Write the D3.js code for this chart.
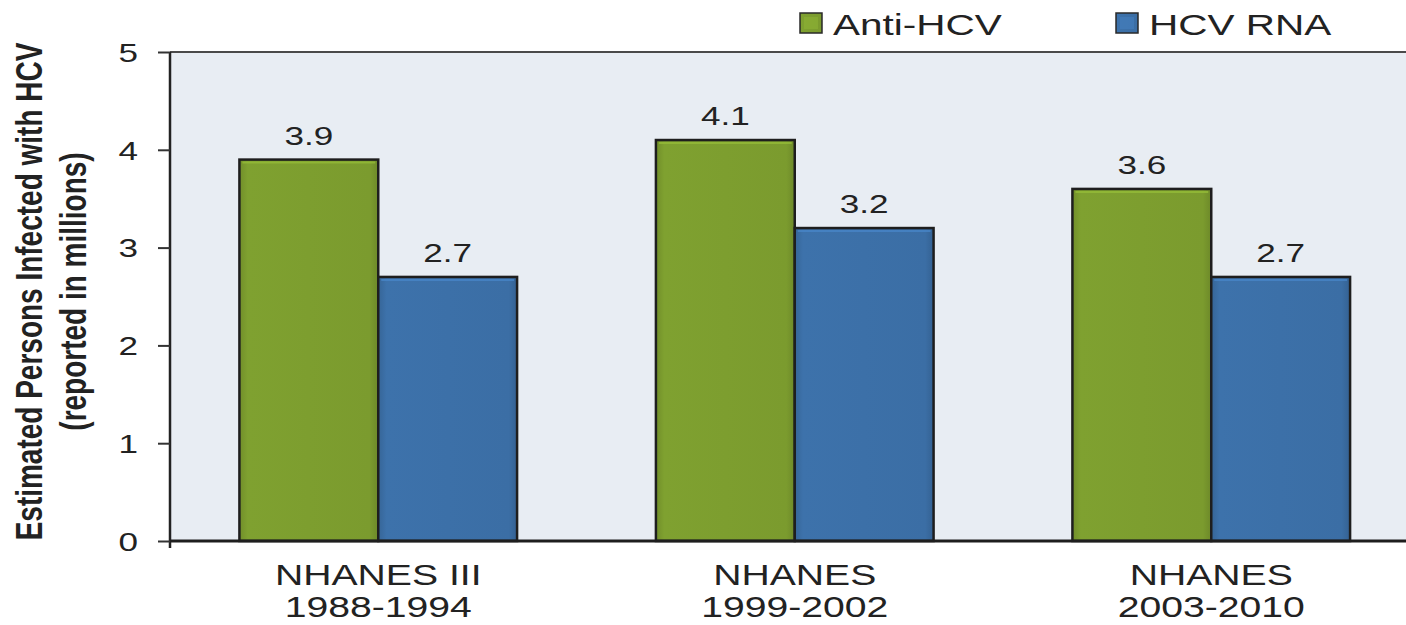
<!DOCTYPE html>
<html>
<head>
<meta charset="utf-8">
<script src="https://cdn.jsdelivr.net/npm/d3@7"></script>
<style>
  html, body { margin: 0; padding: 0; background: #ffffff; }
  svg { display: block; }
  text { font-family: "Liberation Sans", Arial, "DejaVu Sans", sans-serif; fill: #222; }
</style>
</head>
<body>
<svg id="chart" width="1406" height="625"></svg>
<script>
// Survey periods (two-line category labels)
const surveys = ["NHANES III|1988-1994", "NHANES|1999-2002", "NHANES|2003-2010"];
// Series shown for each survey
const seriesNames = ["Anti-HCV", "HCV RNA"];
// Estimated persons infected (millions)
const antiHCV = [3.9, 4.1, 3.6];
const hcvRNA = [2.7, 3.2, 2.7];
const yTicks = [0, 1, 2, 3, 4, 5];

const seriesValues = [antiHCV, hcvRNA];
const colors = ["#7b9b2e", "#3b6ea5"];
const SX = 1.35; // horizontal text stretch

const svg = d3.select("#chart");
const W = 1406, H = 625;
const margin = { left: 170, top: 52, bottom: 84 };
const plotRight = 1419.5;

const y = d3.scaleLinear().domain([0, 5]).range([H - margin.bottom, margin.top]);
const x0 = d3.scaleBand().domain(surveys).range([margin.left, plotRight]).padding(0);
const x1 = d3.scaleBand().domain(seriesNames).range([0, x0.bandwidth()])
  .paddingInner(0).paddingOuter(0.5);

const defs = svg.append("defs");
function bevel(id, base) {
  const g = defs.append("linearGradient").attr("id", id)
    .attr("x1", 0).attr("x2", 1).attr("y1", 0).attr("y2", 0);
  const c = d3.color(base);
  g.append("stop").attr("offset", "0%").attr("stop-color", c.darker(0.25));
  g.append("stop").attr("offset", "6%").attr("stop-color", c.brighter(0.1));
  g.append("stop").attr("offset", "94%").attr("stop-color", c);
  g.append("stop").attr("offset", "100%").attr("stop-color", c.darker(0.35));
}
bevel("g0", colors[0]);
bevel("g1", colors[1]);

// plot background
svg.append("rect")
  .attr("x", margin.left).attr("y", y(5))
  .attr("width", plotRight - margin.left).attr("height", y(0) - y(5))
  .attr("fill", "#e8edf3");

// top frame line
svg.append("line")
  .attr("x1", margin.left).attr("x2", W)
  .attr("y1", y(5)).attr("y2", y(5))
  .attr("stroke", "#4a4a4a").attr("stroke-width", 2);

// bars
const groups = svg.append("g").selectAll("g")
  .data(surveys).join("g")
  .attr("transform", d => `translate(${x0(d)},0)`);

groups.each(function (s, i) {
  const g = d3.select(this);
  seriesNames.forEach((name, k) => {
    const v = seriesValues[k][i];
    const bx = x1(name), bw = x1.bandwidth();
    g.append("rect")
      .attr("x", bx).attr("y", y(v))
      .attr("width", bw).attr("height", y(0) - y(v))
      .attr("fill", `url(#g${k})`)
      .attr("stroke", "#1e1e1e").attr("stroke-width", 2.5);
    // top highlight
    g.append("line")
      .attr("x1", bx + 3).attr("x2", bx + bw - 3)
      .attr("y1", y(v) + 3).attr("y2", y(v) + 3)
      .attr("stroke", d3.color(colors[k]).brighter(0.6))
      .attr("stroke-width", 2).attr("opacity", 0.7);
    // value label
    const lg = g.append("g")
      .attr("transform", `translate(${bx + bw / 2},${y(v) - 15}) scale(${SX},1)`);
    lg.append("text").attr("text-anchor", "middle")
      .attr("font-size", 26).text(v.toFixed(1));
  });
});

// y axis
const yAxis = svg.append("g")
  .attr("transform", `translate(${margin.left},0)`)
  .call(d3.axisLeft(y).tickValues(yTicks).tickSize(12).tickSizeOuter(0).tickFormat(d3.format("d")));
yAxis.select(".domain").attr("stroke", "#222").attr("stroke-width", 2.5)
  .attr("d", `M0,${y(5)}V${y(0) + 7}`);
yAxis.selectAll(".tick line").attr("stroke", "#333").attr("stroke-width", 2);
yAxis.selectAll(".tick text")
  .attr("x", -32 / SX).attr("dy", "0.36em")
  .attr("transform", `scale(${SX},1)`)
  .attr("font-size", 26).attr("fill", "#222")
  .style("font-family", '"Liberation Sans", Arial, sans-serif');

// x axis line
const xAxis = svg.append("g")
  .attr("transform", `translate(0,${y(0)})`)
  .call(d3.axisBottom(x0).tickSize(0).tickFormat(""));
xAxis.select(".domain").attr("stroke", "#1e1e1e").attr("stroke-width", 3)
  .attr("d", `M${margin.left},0H${W}`);

// category labels
surveys.forEach(s => {
  const lines = s.split("|");
  const cx = x0(s) + x0.bandwidth() / 2;
  lines.forEach((t, j) => {
    svg.append("g")
      .attr("transform", `translate(${cx},${585 + j * 32}) scale(${SX},1)`)
      .append("text").attr("text-anchor", "middle")
      .attr("font-size", 29).text(t);
  });
});

// y axis title
const titleLines = ["Estimated Persons Infected with HCV", "(reported in millions)"];
const titleY = (y(0) + y(5)) / 2 - 5;
titleLines.forEach((t, j) => {
  svg.append("g")
    .attr("transform", `translate(${42 + j * 44},${titleY}) scale(${SX},1) rotate(-90)`)
    .append("text").attr("text-anchor", "middle")
    .attr("font-size", 28).attr("font-weight", "bold").text(t);
});

// legend
const legendX = [800, 1116];
seriesNames.forEach((name, k) => {
  const lg = svg.append("g").attr("transform", `translate(${legendX[k]},13)`);
  lg.append("rect").attr("width", 22).attr("height", 20)
    .attr("fill", `url(#g${k})`).attr("stroke", "#2a2a2a").attr("stroke-width", 1.5);
  lg.append("rect").attr("x", 4).attr("y", 4).attr("width", 14).attr("height", 12)
    .attr("fill", d3.color(colors[k]).brighter(0.4)).attr("opacity", 0.6);
  lg.append("g").attr("transform", `translate(33,22) scale(${SX},1)`)
    .append("text").attr("font-size", 30).text(name);
});
</script>
</body>
</html>
